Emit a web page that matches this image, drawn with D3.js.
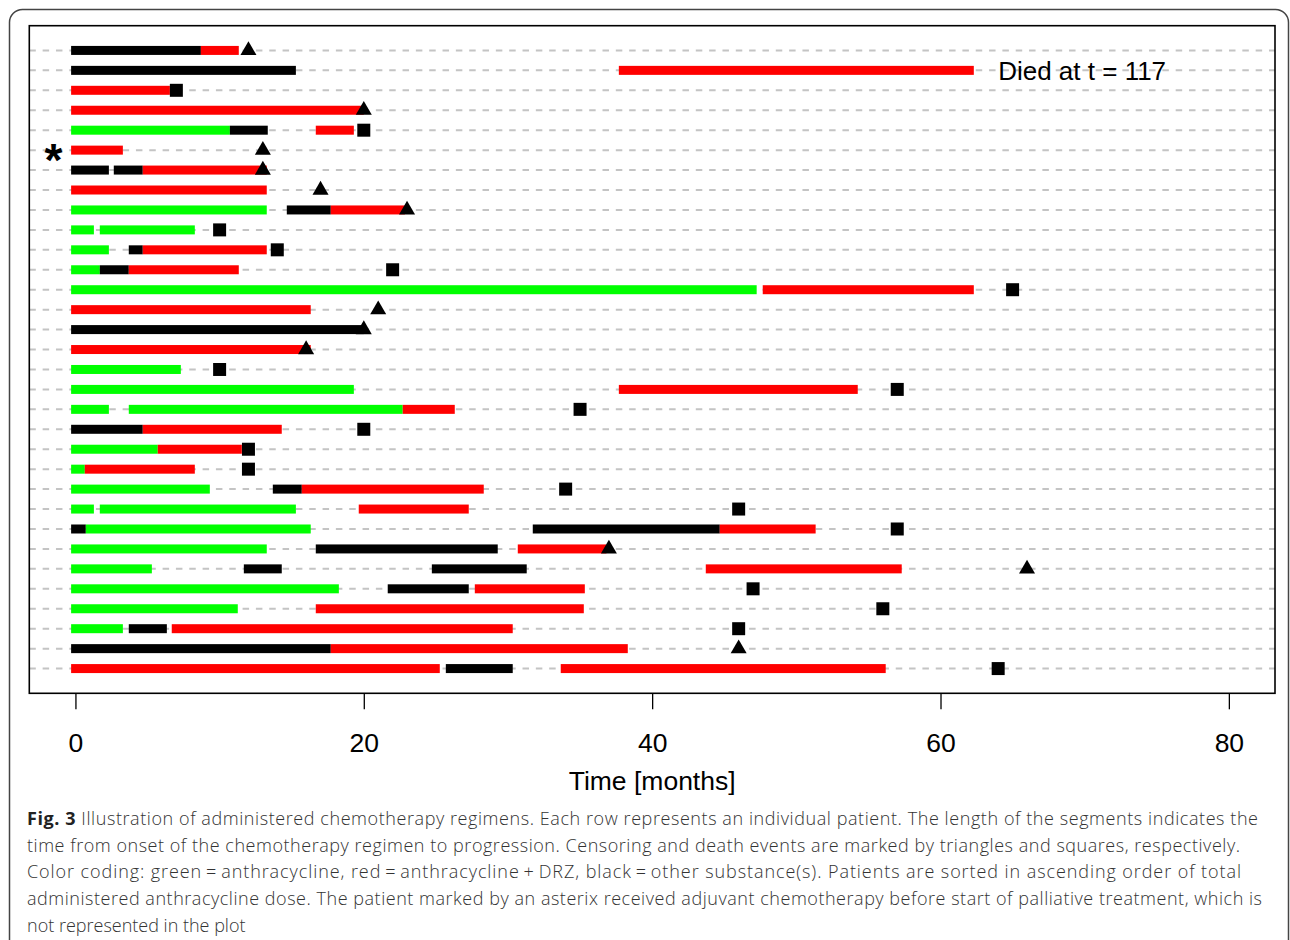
<!DOCTYPE html>
<html lang="en">
<head>
    <meta charset="UTF-8">
    <title>Chemotherapy regimens per patient</title>
    <script src="https://d3js.org/d3.v7.min.js"></script>
    <style>
        body { margin: 0; background: #fff; }
        .row-line { stroke: #c4c4c4; stroke-width: 2px; stroke-dasharray: 6.5 6.83; }
        .axis text { font: 26.5px "Liberation Sans", Arial, sans-serif; fill: #000; }
        .axis line { stroke: #000; stroke-width: 1.3px; }
        .caption { font-family: "Open Sans", sans-serif; font-size: 18px; font-weight: 300; fill: #333; }
    </style>
</head>
<body>
<script>
    // Segments per patient row (row 1 = top): [row, start, end, substance]
    // substance: g = anthracycline, r = anthracycline + DRZ, k = other
    const segments = [
        [1, -0.3, 8.7, "k"], [1, 8.7, 11.33, "r"],
        [2, -0.3, 15.29, "k"], [2, 37.69, 62.31, "r"],
        [3, -0.3, 6.55, "r"],
        [4, -0.3, 20.0, "r"],
        [5, -0.3, 10.71, "g"], [5, 10.71, 13.34, "k"], [5, 16.67, 19.31, "r"],
        [6, -0.3, 3.29, "r"],
        [7, -0.3, 2.32, "k"], [7, 2.66, 4.67, "k"], [7, 4.67, 13.27, "r"],
        [8, -0.3, 13.27, "r"],
        [9, -0.3, 13.27, "g"], [9, 14.66, 17.71, "k"], [9, 17.71, 22.85, "r"],
        [10, -0.3, 1.28, "g"], [10, 1.69, 8.28, "g"],
        [11, -0.3, 2.32, "g"], [11, 3.7, 4.67, "k"], [11, 4.67, 13.27, "r"],
        [12, -0.3, 1.69, "g"], [12, 1.69, 3.7, "k"], [12, 3.7, 11.33, "r"],
        [13, -0.3, 47.25, "g"], [13, 47.67, 62.31, "r"],
        [14, -0.3, 16.32, "r"],
        [15, -0.3, 20.0, "k"],
        [16, -0.3, 16.32, "r"],
        [17, -0.3, 7.31, "g"],
        [18, -0.3, 19.31, "g"], [18, 37.69, 54.26, "r"],
        [19, -0.3, 2.32, "g"], [19, 3.7, 22.7, "g"], [19, 22.7, 26.31, "r"],
        [20, -0.3, 4.67, "k"], [20, 4.67, 14.31, "r"],
        [21, -0.3, 5.71, "g"], [21, 5.71, 11.54, "r"],
        [22, -0.3, 0.65, "g"], [22, 0.65, 8.28, "r"],
        [23, -0.3, 9.32, "g"], [23, 13.69, 15.7, "k"], [23, 15.7, 28.32, "r"],
        [24, -0.3, 1.28, "g"], [24, 1.69, 15.29, "g"], [24, 19.65, 27.28, "r"],
        [25, -0.3, 0.72, "k"], [25, 0.72, 16.32, "g"], [25, 31.72, 44.69, "k"], [25, 44.69, 51.34, "r"],
        [26, -0.3, 13.27, "g"], [26, 16.67, 29.29, "k"], [26, 30.68, 36.83, "r"],
        [27, -0.3, 5.3, "g"], [27, 11.68, 14.31, "k"], [27, 24.72, 31.3, "k"], [27, 43.72, 57.31, "r"],
        [28, -0.3, 18.27, "g"], [28, 21.66, 27.28, "k"], [28, 27.7, 35.33, "r"],
        [29, -0.3, 11.26, "g"], [29, 16.67, 35.26, "r"],
        [30, -0.3, 3.29, "g"], [30, 3.7, 6.34, "k"], [30, 6.68, 30.33, "r"],
        [31, -0.3, 17.71, "k"], [31, 17.71, 38.31, "r"],
        [32, -0.3, 25.27, "r"], [32, 25.69, 30.33, "k"], [32, 33.66, 56.2, "r"]
    ];

    // Event per row: time in months and type (c = censored / triangle, d = death / square)
    const eventRows  = [1, 3, 4, 5, 6, 7, 8, 9, 10, 11, 12, 13, 14, 15, 16, 17, 18, 19, 20, 21, 22, 23, 24, 25, 26, 27, 28, 29, 30, 31, 32];
    const eventTimes = [12, 7, 20, 20, 13, 13, 17, 23, 10, 14, 22, 65, 21, 20, 16, 10, 57, 35, 20, 12, 12, 34, 46, 57, 37, 66, 47, 56, 46, 46, 64];
    const eventTypes = ["c", "d", "c", "d", "c", "c", "c", "c", "d", "d", "d", "d", "c", "c", "c", "d", "d", "d", "d", "d", "d", "d", "d", "d", "c", "c", "d", "d", "d", "c", "d"];

    const nRows = 32;
    const xTicks = [0, 20, 40, 60, 80];
    const colors = { g: "#00ff00", r: "#ff0000", k: "#000000" };

    const W = 1290, H = 940;
    const box = { left: 29.3, right: 1275, top: 25.7, bottom: 693.3 };

    const svg = d3.select("body").append("svg")
        .attr("width", W)
        .attr("height", H);

    // outer rounded frame of the figure panel
    svg.append("rect")
        .attr("x", 9.5).attr("y", 9.5)
        .attr("width", 1279).attr("height", 1000)
        .attr("rx", 13)
        .attr("fill", "none")
        .attr("stroke", "#444")
        .attr("stroke-width", 1.5);

    const x = d3.scaleLinear().domain([-3.2, 83.2]).range([box.left, box.right]);
    const y = d3.scaleLinear().domain([1 - 0.04 * 31, nRows + 0.04 * 31]).range([box.top, box.bottom]);

    // dashed row guides
    svg.append("g").selectAll("line")
        .data(d3.range(1, nRows + 1))
        .join("line")
        .attr("class", "row-line")
        .attr("x1", box.left).attr("x2", box.right)
        .attr("y1", d => y(d)).attr("y2", d => y(d));

    // regimen segments
    const barH = 9;
    svg.append("g").selectAll("rect")
        .data(segments)
        .join("rect")
        .attr("x", d => x(d[1]))
        .attr("width", d => x(d[2]) - x(d[1]))
        .attr("y", d => y(d[0]) - barH / 2)
        .attr("height", barH)
        .attr("fill", d => colors[d[3]]);

    // censoring (triangle) and death (square) markers
    const events = eventRows.map((r, i) => ({ row: r, t: eventTimes[i], type: eventTypes[i] }));
    const tri = d3.symbol().type(d3.symbolTriangle).size(111);
    const sq = d3.symbol().type(d3.symbolSquare).size(169);
    svg.append("g").selectAll("path")
        .data(events)
        .join("path")
        .attr("transform", d => `translate(${x(d.t)},${y(d.row)})`)
        .attr("d", d => d.type === "c" ? tri() : sq())
        .attr("fill", "#000");

    // note for patient 2
    svg.append("text")
        .attr("x", x(64))
        .attr("y", y(2))
        .attr("dy", "0.36em")
        .style("font", "26px 'Liberation Sans', Arial, sans-serif")
        .text("Died at t = 117");

    // asterisk marking adjuvant chemotherapy patient
    svg.append("text")
        .attr("x", 53.5)
        .attr("y", y(6) + 26)
        .attr("text-anchor", "middle")
        .style("font", "bold 46px 'Liberation Sans', Arial, sans-serif")
        .text("*");

    // plot box
    svg.append("rect")
        .attr("x", box.left).attr("y", box.top)
        .attr("width", box.right - box.left)
        .attr("height", box.bottom - box.top)
        .attr("fill", "none")
        .attr("stroke", "#000")
        .attr("stroke-width", 1.6);

    // x axis
    const axis = svg.append("g")
        .attr("class", "axis")
        .attr("transform", `translate(0,${box.bottom})`)
        .call(d3.axisBottom(x).tickValues(xTicks).tickSize(16).tickFormat(d3.format("d")));
    axis.select(".domain").remove();
    axis.selectAll("text").attr("y", 40).attr("dy", "0.71em");

    svg.append("text")
        .attr("x", (box.left + box.right) / 2)
        .attr("y", 790)
        .attr("text-anchor", "middle")
        .style("font", "26.5px 'Liberation Sans', Arial, sans-serif")
        .text("Time [months]");

    // caption
    const captionLines = [
        ["Fig. 3", " Illustration of administered chemotherapy regimens. Each row represents an individual patient. The length of the segments indicates the", 1231],
        ["", "time from onset of the chemotherapy regimen to progression. Censoring and death events are marked by triangles and squares, respectively.", 1213],
        ["", "Color coding: green\u2009=\u2009anthracycline, red\u2009=\u2009anthracycline\u2009+\u2009DRZ, black\u2009=\u2009other substance(s). Patients are sorted in ascending order of total", 1214],
        ["", "administered anthracycline dose. The patient marked by an asterix received adjuvant chemotherapy before start of palliative treatment, which is", 1235],
        ["", "not represented in the plot", 0]
    ];
    const cap = svg.append("g").attr("class", "caption");
    captionLines.forEach((ln, i) => {
        const t = cap.append("text")
            .attr("x", 27)
            .attr("y", 825 + i * 26.7);
        if (ln[2]) t.attr("textLength", ln[2]).attr("lengthAdjust", "spacing");
        if (ln[0]) t.append("tspan").style("font-weight", "bold").style("fill", "#222").text(ln[0]);
        t.append("tspan").text(ln[1]);
    });
</script>
</body>
</html>
